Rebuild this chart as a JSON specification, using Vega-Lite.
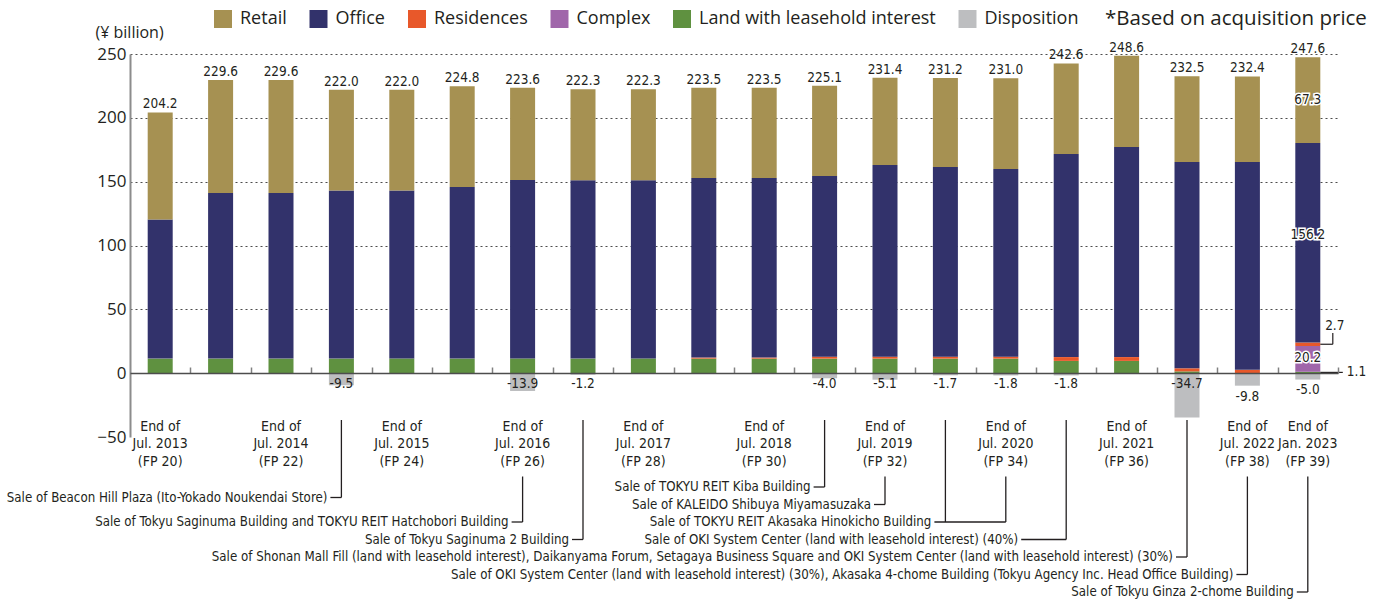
{
  "$schema": "https://vega.github.io/schema/vega-lite/v6.json",
  "width": 1208,
  "height": 383,
  "autosize": {"type": "none"},
  "padding": {"left": 130, "top": 54, "right": 35, "bottom": 164},
  "config": {
    "view": {"stroke": null},
    "font": "Open Sans",
    "locale": {"number": {"decimal": ".", "thousands": ",", "grouping": [3], "currency": ["¥", ""], "minus": "-"}}
  },
  "datasets": {
    "categories": [
      {"category": "Land with leasehold interest", "stackOrder": 1},
      {"category": "Complex", "stackOrder": 2},
      {"category": "Residences", "stackOrder": 3},
      {"category": "Office", "stackOrder": 4},
      {"category": "Retail", "stackOrder": 5},
      {"category": "Disposition", "stackOrder": 6}
    ],
    "bars": [
      {"fp": 20, "category": "Land with leasehold interest", "value": 11.4},
      {"fp": 20, "category": "Office", "value": 109.0},
      {"fp": 20, "category": "Retail", "value": 83.8},
      {"fp": 21, "category": "Land with leasehold interest", "value": 11.4},
      {"fp": 21, "category": "Office", "value": 129.7},
      {"fp": 21, "category": "Retail", "value": 88.5},
      {"fp": 22, "category": "Land with leasehold interest", "value": 11.4},
      {"fp": 22, "category": "Office", "value": 129.7},
      {"fp": 22, "category": "Retail", "value": 88.5},
      {"fp": 23, "category": "Land with leasehold interest", "value": 11.4},
      {"fp": 23, "category": "Office", "value": 131.6},
      {"fp": 23, "category": "Retail", "value": 79.0},
      {"fp": 23, "category": "Disposition", "value": -9.5},
      {"fp": 24, "category": "Land with leasehold interest", "value": 11.4},
      {"fp": 24, "category": "Office", "value": 131.6},
      {"fp": 24, "category": "Retail", "value": 79.0},
      {"fp": 25, "category": "Land with leasehold interest", "value": 11.4},
      {"fp": 25, "category": "Office", "value": 134.4},
      {"fp": 25, "category": "Retail", "value": 79.0},
      {"fp": 26, "category": "Land with leasehold interest", "value": 11.4},
      {"fp": 26, "category": "Office", "value": 139.9},
      {"fp": 26, "category": "Retail", "value": 72.3},
      {"fp": 26, "category": "Disposition", "value": -13.9},
      {"fp": 27, "category": "Land with leasehold interest", "value": 11.4},
      {"fp": 27, "category": "Office", "value": 139.8},
      {"fp": 27, "category": "Retail", "value": 71.1},
      {"fp": 27, "category": "Disposition", "value": -1.2},
      {"fp": 28, "category": "Land with leasehold interest", "value": 11.4},
      {"fp": 28, "category": "Office", "value": 139.8},
      {"fp": 28, "category": "Retail", "value": 71.1},
      {"fp": 29, "category": "Land with leasehold interest", "value": 11.4},
      {"fp": 29, "category": "Residences", "value": 0.8},
      {"fp": 29, "category": "Office", "value": 140.6},
      {"fp": 29, "category": "Retail", "value": 70.7},
      {"fp": 30, "category": "Land with leasehold interest", "value": 11.4},
      {"fp": 30, "category": "Residences", "value": 0.8},
      {"fp": 30, "category": "Office", "value": 140.6},
      {"fp": 30, "category": "Retail", "value": 70.7},
      {"fp": 31, "category": "Land with leasehold interest", "value": 11.4},
      {"fp": 31, "category": "Residences", "value": 1.5},
      {"fp": 31, "category": "Office", "value": 141.5},
      {"fp": 31, "category": "Retail", "value": 70.7},
      {"fp": 31, "category": "Disposition", "value": -4.0},
      {"fp": 32, "category": "Land with leasehold interest", "value": 11.4},
      {"fp": 32, "category": "Residences", "value": 1.5},
      {"fp": 32, "category": "Office", "value": 150.1},
      {"fp": 32, "category": "Retail", "value": 68.4},
      {"fp": 32, "category": "Disposition", "value": -5.1},
      {"fp": 33, "category": "Land with leasehold interest", "value": 11.4},
      {"fp": 33, "category": "Residences", "value": 1.5},
      {"fp": 33, "category": "Office", "value": 148.6},
      {"fp": 33, "category": "Retail", "value": 69.7},
      {"fp": 33, "category": "Disposition", "value": -1.7},
      {"fp": 34, "category": "Land with leasehold interest", "value": 11.4},
      {"fp": 34, "category": "Residences", "value": 1.5},
      {"fp": 34, "category": "Office", "value": 147.0},
      {"fp": 34, "category": "Retail", "value": 71.1},
      {"fp": 34, "category": "Disposition", "value": -1.8},
      {"fp": 35, "category": "Land with leasehold interest", "value": 9.6},
      {"fp": 35, "category": "Residences", "value": 3.0},
      {"fp": 35, "category": "Office", "value": 159.1},
      {"fp": 35, "category": "Retail", "value": 70.9},
      {"fp": 35, "category": "Disposition", "value": -1.8},
      {"fp": 36, "category": "Land with leasehold interest", "value": 9.6},
      {"fp": 36, "category": "Residences", "value": 3.0},
      {"fp": 36, "category": "Office", "value": 164.6},
      {"fp": 36, "category": "Retail", "value": 71.4},
      {"fp": 37, "category": "Land with leasehold interest", "value": 1.4},
      {"fp": 37, "category": "Residences", "value": 2.4},
      {"fp": 37, "category": "Office", "value": 161.6},
      {"fp": 37, "category": "Retail", "value": 67.1},
      {"fp": 37, "category": "Disposition", "value": -34.7},
      {"fp": 38, "category": "Residences", "value": 2.6},
      {"fp": 38, "category": "Office", "value": 162.8},
      {"fp": 38, "category": "Retail", "value": 67.0},
      {"fp": 38, "category": "Disposition", "value": -9.8},
      {"fp": 39, "category": "Land with leasehold interest", "value": 1.1},
      {"fp": 39, "category": "Complex", "value": 20.2},
      {"fp": 39, "category": "Residences", "value": 2.7},
      {"fp": 39, "category": "Office", "value": 156.2},
      {"fp": 39, "category": "Retail", "value": 67.3},
      {"fp": 39, "category": "Disposition", "value": -5.0}
    ],
    "totals": [
      {"fp": 20, "total": 204.2, "disposition": null},
      {"fp": 21, "total": 229.6, "disposition": null},
      {"fp": 22, "total": 229.6, "disposition": null},
      {"fp": 23, "total": 222.0, "disposition": -9.5},
      {"fp": 24, "total": 222.0, "disposition": null},
      {"fp": 25, "total": 224.8, "disposition": null},
      {"fp": 26, "total": 223.6, "disposition": -13.9},
      {"fp": 27, "total": 222.3, "disposition": -1.2},
      {"fp": 28, "total": 222.3, "disposition": null},
      {"fp": 29, "total": 223.5, "disposition": null},
      {"fp": 30, "total": 223.5, "disposition": null},
      {"fp": 31, "total": 225.1, "disposition": -4.0},
      {"fp": 32, "total": 231.4, "disposition": -5.1},
      {"fp": 33, "total": 231.2, "disposition": -1.7},
      {"fp": 34, "total": 231.0, "disposition": -1.8},
      {"fp": 35, "total": 242.6, "disposition": -1.8},
      {"fp": 36, "total": 248.6, "disposition": null},
      {"fp": 37, "total": 232.5, "disposition": -34.7},
      {"fp": 38, "total": 232.4, "disposition": -9.8},
      {"fp": 39, "total": 247.6, "disposition": -5.0}
    ],
    "notes": [
      {"fp": 23, "to": 23, "line": 1.6, "text": "Sale of Beacon Hill Plaza (Ito-Yokado Noukendai Store)"},
      {"fp": 26, "to": 26, "line": 3, "text": "Sale of Tokyu Saginuma Building and TOKYU REIT Hatchobori Building"},
      {"fp": 27, "to": 27, "line": 4, "text": "Sale of Tokyu Saginuma 2 Building"},
      {"fp": 31, "to": 31, "line": 1, "text": "Sale of TOKYU REIT Kiba Building"},
      {"fp": 32, "to": 32, "line": 2, "text": "Sale of KALEIDO Shibuya Miyamasuzaka"},
      {"fp": 33, "to": 34, "line": 3, "text": "Sale of TOKYU REIT Akasaka Hinokicho Building"},
      {"fp": 35, "to": 35, "line": 4, "text": "Sale of OKI System Center (land with leasehold interest) (40%)"},
      {"fp": 37, "to": 37, "line": 5, "text": "Sale of Shonan Mall Fill (land with leasehold interest), Daikanyama Forum, Setagaya Business Square and OKI System Center (land with leasehold interest) (30%)"},
      {"fp": 38, "to": 38, "line": 6, "text": "Sale of OKI System Center (land with leasehold interest) (30%), Akasaka 4-chome Building (Tokyu Agency Inc. Head Office Building)"},
      {"fp": 39, "to": 39, "line": 7, "text": "Sale of Tokyu Ginza 2-chome Building"}
    ]
  },
  "layer": [
    {
      "layer": [
        {
          "data": {"name": "bars"},
          "transform": [
            {"lookup": "category", "from": {"data": {"name": "categories"}, "key": "category", "fields": ["stackOrder"]}}
          ],
          "mark": {"type": "bar"},
          "encoding": {
            "x": {
              "field": "fp", "type": "ordinal",
              "scale": {"paddingInner": 0.586, "paddingOuter": 0.293},
              "axis": {
                "orient": "bottom", "title": null, "domain": false, "ticks": false, "grid": false,
                "labelAngle": 0, "labelOverlap": false, "labelBound": false,
                "labelExpr": "(datum.value % 2 == 0 || datum.value == 39) ? ['End of', (datum.value % 2 == 0 ? 'Jul. ' + (2013 + (datum.value - 20) / 2) : 'Jan. ' + (2013 + (datum.value - 19) / 2)), '(FP ' + datum.value + ')'] : ''",
                "labelFont": "DejaVu Sans Condensed, sans-serif",
                "labelFontSize": 14, "labelLineHeight": 17.5, "labelColor": "#231F20",
                "labelBaseline": "top", "offset": -18, "labelPadding": 0
              }
            },
            "y": {
              "field": "value", "type": "quantitative", "stack": "zero",
              "scale": {"domain": [-50, 250], "nice": false},
              "axis": {
                "values": [-50, 0, 50, 100, 150, 200, 250],
                "labelExpr": "replace(datum.label, '-', '−')",
                "title": "(¥ billion)", "titleAngle": 0, "titleAlign": "left", "titleBaseline": "middle",
                "titleX": -35, "titleY": -22, "titleFont": "Open Sans", "titleFontSize": 16,
                "titleFontWeight": "normal", "titleColor": "#231F20",
                "labelFont": "Open Sans", "labelFontSize": 17, "labelColor": "#231F20", "labelPadding": 4,
                "ticks": false, "domainColor": "#8C8C8C", "domainWidth": 2,
                "grid": true, "gridDash": [2, 3], "gridWidth": 1.2,
                "gridColor": {"condition": {"test": "datum.value <= 0", "value": "rgba(0,0,0,0)"}, "value": "#4D4D4D"}
              }
            },
            "order": {"field": "stackOrder", "type": "quantitative", "sort": "ascending"},
            "color": {
              "field": "category", "type": "nominal",
              "scale": {
                "domain": ["Retail", "Office", "Residences", "Complex", "Land with leasehold interest", "Disposition"],
                "range": ["#A69152", "#32326B", "#E8582A", "#A066AA", "#5F9140", "#BDBEC0"]
              },
              "legend": {
                "orient": "none", "legendX": 84, "legendY": -44, "direction": "horizontal",
                "values": ["Retail", "Office", "Residences", "Complex", "Land with leasehold interest", "Disposition"],
                "title": "*Based on acquisition price", "titleOrient": "right", "titleFont": "Open Sans",
                "titleFontSize": 20.5, "titleFontWeight": "normal", "titleColor": "#231F20", "titlePadding": 27,
                "titleBaseline": "middle", "titleLimit": 400,
                "symbolType": "square", "symbolSize": 324, "symbolStrokeWidth": 0, "symbolOpacity": 1,
                "labelFont": "Open Sans", "labelFontSize": 18, "labelColor": "#231F20", "labelOffset": 8,
                "columnPadding": 22.5, "labelLimit": 400
              }
            }
          }
        },
        {
          "data": {"name": "totals"},
          "mark": {"type": "text", "font": "DejaVu Sans Condensed, sans-serif", "fontSize": 13.5, "fill": "#231F20", "baseline": "alphabetic", "dy": -4},
          "encoding": {
            "x": {"field": "fp", "type": "ordinal"},
            "y": {"field": "total", "type": "quantitative"},
            "text": {"field": "total", "type": "quantitative", "format": ".1f"}
          }
        },
        {
          "data": {"name": "totals"},
          "transform": [{"filter": "datum.disposition != null"}],
          "mark": {"type": "text", "font": "DejaVu Sans Condensed, sans-serif", "fontSize": 13.5, "fill": "#231F20", "baseline": "middle",
                   "dy": {"expr": "datum.fp == 38 ? 13 : datum.fp == 39 ? 6 : 0"}},
          "encoding": {
            "x": {"field": "fp", "type": "ordinal"},
            "y": {"datum": -8.2},
            "text": {"field": "disposition", "type": "quantitative", "format": ".1f"}
          }
        },
        {
          "data": {"name": "bars"},
          "transform": [{"filter": "datum.fp == 39 && datum.category == 'Retail'"}],
          "mark": {"type": "text", "font": "DejaVu Sans Condensed, sans-serif", "fontSize": 13.5, "fill": "white", "stroke": "white", "strokeWidth": 3, "baseline": "middle"},
          "encoding": {"x": {"field": "fp", "type": "ordinal"}, "y": {"datum": 214}, "text": {"field": "value", "type": "quantitative", "format": ".1f"}}
        },
        {
          "data": {"name": "bars"},
          "transform": [{"filter": "datum.fp == 39 && datum.category == 'Retail'"}],
          "mark": {"type": "text", "font": "DejaVu Sans Condensed, sans-serif", "fontSize": 13.5, "fill": "#231F20", "baseline": "middle"},
          "encoding": {"x": {"field": "fp", "type": "ordinal"}, "y": {"datum": 214}, "text": {"field": "value", "type": "quantitative", "format": ".1f"}}
        },
        {
          "data": {"name": "bars"},
          "transform": [{"filter": "datum.fp == 39 && datum.category == 'Office'"}],
          "mark": {"type": "text", "font": "DejaVu Sans Condensed, sans-serif", "fontSize": 13.5, "fill": "white", "stroke": "white", "strokeWidth": 3, "baseline": "middle"},
          "encoding": {"x": {"field": "fp", "type": "ordinal"}, "y": {"datum": 108}, "text": {"field": "value", "type": "quantitative", "format": ".1f"}}
        },
        {
          "data": {"name": "bars"},
          "transform": [{"filter": "datum.fp == 39 && datum.category == 'Office'"}],
          "mark": {"type": "text", "font": "DejaVu Sans Condensed, sans-serif", "fontSize": 13.5, "fill": "#231F20", "baseline": "middle"},
          "encoding": {"x": {"field": "fp", "type": "ordinal"}, "y": {"datum": 108}, "text": {"field": "value", "type": "quantitative", "format": ".1f"}}
        },
        {
          "data": {"name": "bars"},
          "transform": [{"filter": "datum.fp == 39 && datum.category == 'Complex'"}],
          "mark": {"type": "text", "font": "DejaVu Sans Condensed, sans-serif", "fontSize": 13.5, "fill": "white", "stroke": "white", "strokeWidth": 3, "baseline": "middle"},
          "encoding": {"x": {"field": "fp", "type": "ordinal"}, "y": {"datum": 11.9}, "text": {"field": "value", "type": "quantitative", "format": ".1f"}}
        },
        {
          "data": {"name": "bars"},
          "transform": [{"filter": "datum.fp == 39 && datum.category == 'Complex'"}],
          "mark": {"type": "text", "font": "DejaVu Sans Condensed, sans-serif", "fontSize": 13.5, "fill": "#231F20", "baseline": "middle"},
          "encoding": {"x": {"field": "fp", "type": "ordinal"}, "y": {"datum": 11.9}, "text": {"field": "value", "type": "quantitative", "format": ".1f"}}
        },
        {
          "data": {"name": "bars"},
          "transform": [{"filter": "datum.fp == 39 && datum.category == 'Land with leasehold interest'"}],
          "mark": {"type": "rule", "color": "#231F20", "strokeWidth": 1.2, "xOffset": 12.5, "x2Offset": 35},
          "encoding": {"x": {"field": "fp", "type": "ordinal"}, "x2": {"field": "fp"}, "y": {"datum": 0.6}}
        },
        {
          "data": {"name": "bars"},
          "transform": [{"filter": "datum.fp == 39 && datum.category == 'Land with leasehold interest'"}],
          "mark": {"type": "text", "font": "DejaVu Sans Condensed, sans-serif", "fontSize": 13.5, "fill": "#231F20", "baseline": "middle", "align": "left", "dx": 39},
          "encoding": {"x": {"field": "fp", "type": "ordinal"}, "y": {"datum": 0.6}, "text": {"field": "value", "type": "quantitative", "format": ".1f"}}
        },
        {
          "data": {"name": "bars"},
          "transform": [{"filter": "datum.fp == 39 && datum.category == 'Residences'"}],
          "mark": {"type": "rule", "color": "#231F20", "strokeWidth": 1.2, "xOffset": 12.5, "x2Offset": 25},
          "encoding": {"x": {"field": "fp", "type": "ordinal"}, "x2": {"field": "fp"}, "y": {"datum": 22.65}}
        },
        {
          "data": {"name": "bars"},
          "transform": [{"filter": "datum.fp == 39 && datum.category == 'Residences'"}],
          "mark": {"type": "rule", "color": "#231F20", "strokeWidth": 1.2, "xOffset": 25},
          "encoding": {"x": {"field": "fp", "type": "ordinal"}, "y": {"datum": 22.65}, "y2": {"datum": 31.5}}
        },
        {
          "data": {"name": "bars"},
          "transform": [{"filter": "datum.fp == 39 && datum.category == 'Residences'"}],
          "mark": {"type": "text", "font": "DejaVu Sans Condensed, sans-serif", "fontSize": 13.5, "fill": "#231F20", "baseline": "middle", "align": "center", "dx": 27},
          "encoding": {"x": {"field": "fp", "type": "ordinal"}, "y": {"datum": 37}, "text": {"field": "value", "type": "quantitative", "format": ".1f"}}
        }
      ]
    },
    {
      "layer": [
        {
          "data": {"name": "notes"},
          "transform": [{"filter": "!(datum.fp % 2 == 0 || datum.fp == 39)"}],
          "mark": {"type": "rule", "color": "#231F20", "strokeWidth": 1.3},
          "encoding": {
            "x": {
              "field": "fp", "type": "ordinal",
              "axis": {
                "orient": "top", "offset": -319, "labels": false, "title": null, "grid": false,
                "domain": true, "domainColor": "#4D4D4D", "domainWidth": 1.5,
                "ticks": true, "tickColor": "#808080", "tickSize": 6, "tickWidth": 1.5, "tickOffset": 30.2,
                "zindex": 1
              }
            },
            "y": {"field": "line", "type": "quantitative", "scale": {"domain": [1, 7], "range": [433, 538], "nice": false, "zero": false}, "axis": null},
            "y2": {"datum": -2.83}
          }
        },
        {
          "data": {"name": "notes"},
          "transform": [{"filter": "datum.fp % 2 == 0 || datum.fp == 39"}],
          "mark": {"type": "rule", "color": "#231F20", "strokeWidth": 1.3},
          "encoding": {
            "x": {"field": "fp", "type": "ordinal"},
            "y": {"field": "line", "type": "quantitative", "axis": null},
            "y2": {"datum": 0.4}
          }
        },
        {
          "data": {"name": "notes"},
          "transform": [{"filter": "datum.to != datum.fp"}],
          "mark": {"type": "rule", "color": "#231F20", "strokeWidth": 1.3},
          "encoding": {
            "x": {"field": "to", "type": "ordinal"},
            "y": {"field": "line", "type": "quantitative", "axis": null},
            "y2": {"datum": 0.4}
          }
        },
        {
          "data": {"name": "notes"},
          "mark": {"type": "rule", "color": "#231F20", "strokeWidth": 1.3, "xOffset": {"expr": "datum.fp == 35 ? -45 : -11"}},
          "encoding": {
            "x": {"field": "fp", "type": "ordinal"},
            "x2": {"field": "to"},
            "y": {"field": "line", "type": "quantitative", "axis": null}
          }
        },
        {
          "data": {"name": "notes"},
          "mark": {"type": "text", "font": "DejaVu Sans Condensed, sans-serif", "fontSize": 13.2, "fill": "#231F20", "align": "right", "baseline": "middle",
                   "dx": {"expr": "datum.fp == 35 ? -48 : -14"}},
          "encoding": {
            "x": {"field": "fp", "type": "ordinal"},
            "y": {"field": "line", "type": "quantitative", "axis": null},
            "text": {"field": "text", "type": "nominal"}
          }
        }
      ]
    }
  ],
  "resolve": {"scale": {"y": "independent"}, "axis": {"x": "independent", "y": "independent"}}
}
